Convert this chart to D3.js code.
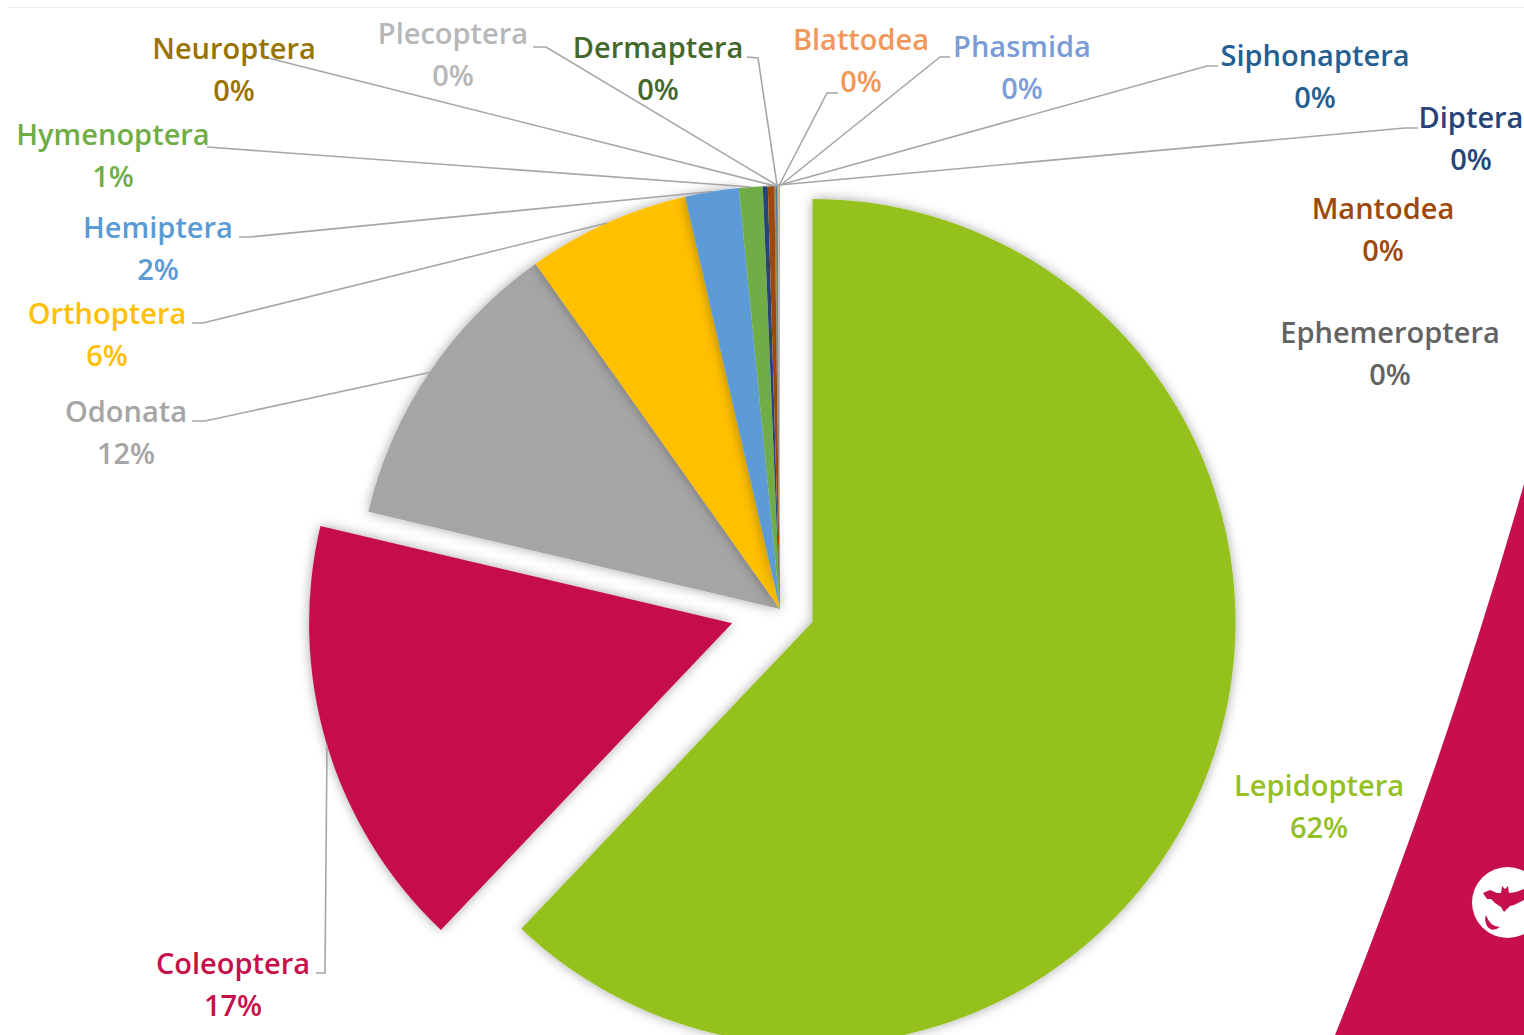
<!DOCTYPE html>
<html>
<head>
<meta charset="utf-8">
<script src="https://cdn.jsdelivr.net/npm/d3@7"></script>
<style>
body { margin: 0; background: #fff; overflow: hidden; }
text { font-family: "Open Sans", sans-serif; font-weight: 600; font-size: 29px; text-anchor: middle; }
</style>
</head>
<body>
<div id="frame"></div>
<script>
const frameWidth = 1524;
const frameHeight = 1035;

// slice data, clockwise from 12 o'clock
const orders = ["Lepidoptera", "Coleoptera", "Odonata", "Orthoptera", "Hemiptera", "Hymenoptera",
    "Diptera", "Mantodea", "Ephemeroptera", "Neuroptera", "Siphonaptera", "Dermaptera",
    "Plecoptera", "Blattodea", "Phasmida"];
const shares = [62.06, 16.6, 11.5, 6.2, 2.05, 0.9, 0.19, 0.25, 0.03, 0.03, 0.03, 0.03, 0.03, 0.03, 0.03];
const sliceColors = ["#94C11F", "#C60F4B", "#A5A5A5", "#FFC000", "#5B9BD5", "#70AD47",
    "#264478", "#9E480E", "#636363", "#997300", "#255E91", "#43682B",
    "#B7B7B7", "#F1975A", "#7C9CD8"];

// pulled out slices
const explode = {Lepidoptera: 35, Coleoptera: 50};

const cx = 780, cy = 609, radius = 423;

// label spot: centre x, name baseline y. Leader: the elbow points, last one goes to the slice
const labelSpots = {
    Lepidoptera: {x: 1319, y: 796},
    Coleoptera: {x: 233, y: 974, leader: [[316, 973], [325, 973], [327, 745]]},
    Odonata: {x: 126, y: 422, leader: [[192, 421], [205, 421]], toSlice: true},
    Orthoptera: {x: 107, y: 324, leader: [[192, 323], [203, 323]], toSlice: true},
    Hemiptera: {x: 158, y: 238, leader: [[239, 237], [250, 237]], toSlice: true},
    Hymenoptera: {x: 113, y: 145, leader: [[207, 147]], toSlice: true},
    Diptera: {x: 1471, y: 128, leader: [[1418, 128], [1405, 128]], toSlice: true},
    Mantodea: {x: 1383, y: 219},
    Ephemeroptera: {x: 1390, y: 343},
    Neuroptera: {x: 234, y: 59, leader: [[268, 58]], toSlice: true},
    Siphonaptera: {x: 1315, y: 66, leader: [[1218, 66], [1207, 66]], toSlice: true},
    Dermaptera: {x: 658, y: 58, leader: [[747, 57], [758, 58]], toSlice: true},
    Plecoptera: {x: 453, y: 44, leader: [[533, 47], [546, 47]], toSlice: true},
    Blattodea: {x: 861, y: 50, leader: [[838, 93], [827, 93]], toSlice: true},
    Phasmida: {x: 1022, y: 57, leader: [[950, 57], [940, 57]], toSlice: true}
};

let frame = d3.select("#frame")
    .append("svg")
    .attr("width", frameWidth)
    .attr("height", frameHeight)
    .style("display", "block");

// soft shadow round the slices
let shadow = frame.append("defs").append("filter")
    .attr("id", "sliceShadow")
    .attr("x", "-10%").attr("y", "-10%")
    .attr("width", "120%").attr("height", "120%");
shadow.append("feDropShadow")
    .attr("dx", 0).attr("dy", 0)
    .attr("stdDeviation", 6)
    .attr("flood-color", "#000")
    .attr("flood-opacity", 0.35);

// thin rule along the top
frame.append("line")
    .attr("x1", 8).attr("x2", frameWidth)
    .attr("y1", 7.5).attr("y2", 7.5)
    .style("stroke", "#efefef")
    .style("stroke-width", 1);

// crimson shape and logo at the right edge
frame.append("path")
    .attr("d", "M1524,484 Q1442,770 1335,1035 L1524,1035 Z")
    .attr("fill", "#C60F4B");

frame.append("circle")
    .attr("cx", 1507.5).attr("cy", 902.5).attr("r", 35.5)
    .attr("fill", "#fff");
frame.append("path")
    .attr("d", "M1483,893 L1490,890 L1497,893 L1501,893 L1502,886 L1505,889 L1508,886 L1509,893 L1516,892 L1524,889 L1524,900 L1518,903 L1514,905 L1510,906 L1507,909 L1504,912 L1501,907 L1495,903 L1491,899 L1487,899 L1485,896 Z")
    .attr("fill", "#C60F4B");
frame.append("path")
    .attr("d", "M1486,915 Q1490,927 1500,927 Q1492,933 1487,926 Q1484,920 1486,915 Z")
    .attr("fill", "#C60F4B");

let pie = d3.pie()
    .sort(null)
    .value(d => d.share);

let arc = d3.arc()
    .innerRadius(0)
    .outerRadius(radius);

let slices = pie(orders.map((name, i) => ({name: name, share: shares[i], color: sliceColors[i]})));

function midAngle(d) {
    return (d.startAngle + d.endAngle) / 2;
}

function sliceOrigin(d) {
    let off = explode[d.data.name] || 0;
    let p = d3.pointRadial(midAngle(d), off);
    return [cx + p[0], cy + p[1]];
}

let pieGroup = frame.append("g");

pieGroup.selectAll("path")
    .data(slices)
    .enter()
    .append("path")
    .attr("transform", d => "translate(" + sliceOrigin(d) + ")")
    .attr("d", arc)
    .attr("fill", d => d.data.color)
    .attr("filter", d => d.data.share > 1 ? "url(#sliceShadow)" : null);

// leader lines
let line = d3.line();
slices.forEach(d => {
    let spot = labelSpots[d.data.name];
    if (!spot.leader) return;
    let pts = spot.leader.slice();
    if (spot.toSlice) {
        let o = sliceOrigin(d);
        let p = d3.pointRadial(midAngle(d), radius);
        pts.push([o[0] + p[0], o[1] + p[1]]);
    }
    frame.append("path")
        .attr("d", line(pts))
        .attr("fill", "none")
        .style("stroke", "#a6a6a6")
        .style("stroke-width", 1.6);
});

// labels
slices.forEach(d => {
    let spot = labelSpots[d.data.name];
    let label = frame.append("text")
        .attr("fill", d.data.color);
    label.append("tspan")
        .attr("x", spot.x)
        .attr("y", spot.y)
        .text(d.data.name);
    label.append("tspan")
        .attr("x", spot.x)
        .attr("y", spot.y + 42)
        .text(Math.round(d.data.share) + "%");
});
</script>
</body>
</html>
